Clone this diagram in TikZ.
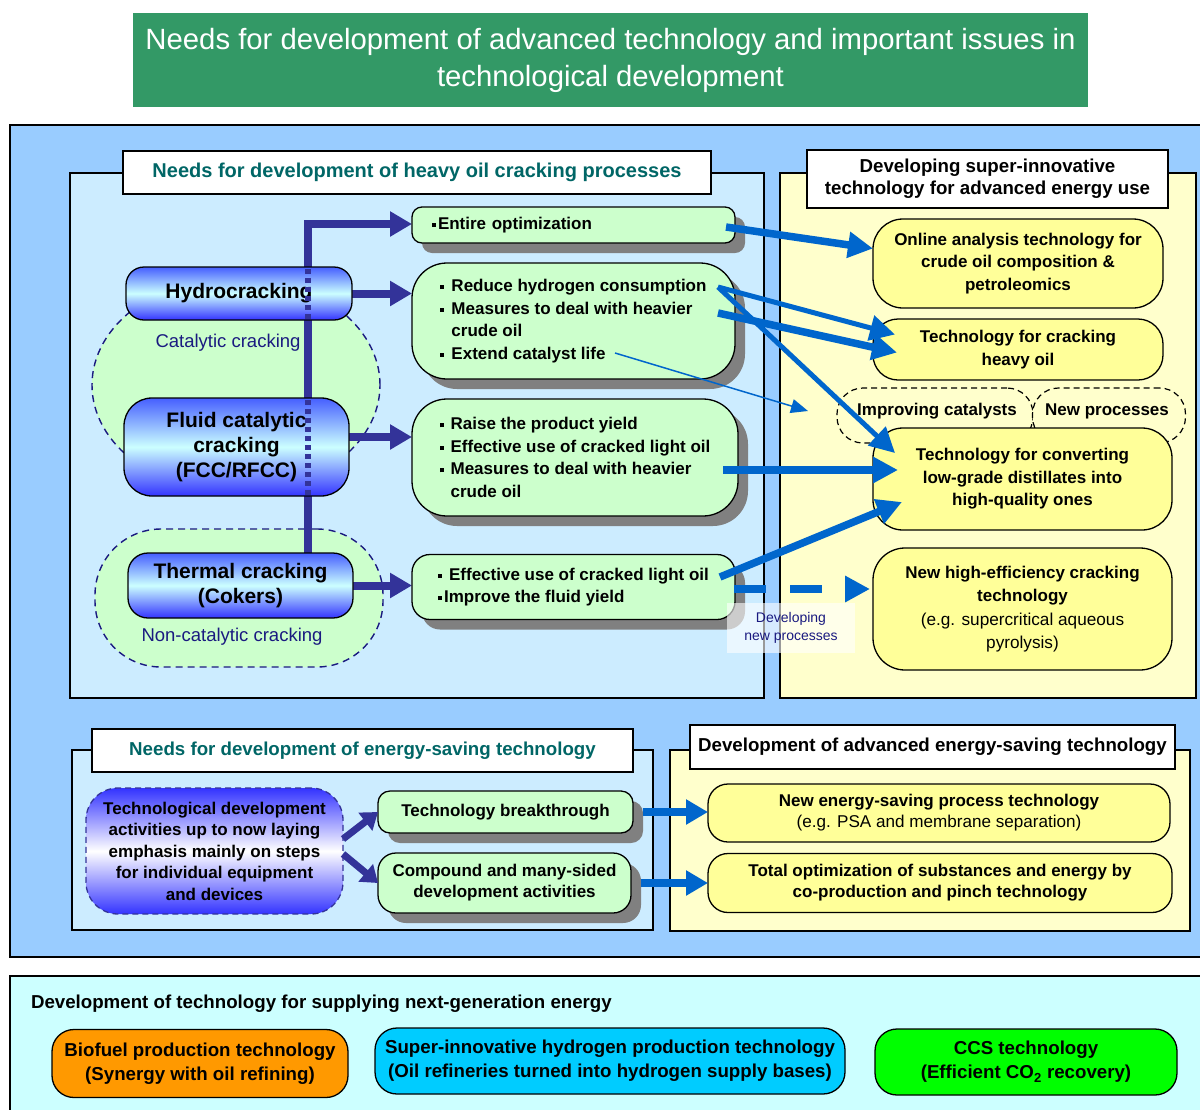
\documentclass[tikz,border=0pt]{standalone}
\usepackage{fontspec}
\setmainfont{Liberation Sans}
\usetikzlibrary{arrows.meta,shadows}
\definecolor{bannerc}{RGB}{51,153,102}
\definecolor{outerc}{RGB}{153,204,255}
\definecolor{secc}{RGB}{204,236,255}
\definecolor{ypanel}{RGB}{255,255,204}
\definecolor{gboxc}{RGB}{204,255,204}
\definecolor{yboxc}{RGB}{255,255,153}
\definecolor{tealc}{RGB}{0,102,102}
\definecolor{navyc}{RGB}{51,51,153}
\definecolor{labelc}{RGB}{26,26,128}
\definecolor{bluec}{RGB}{0,102,204}
\definecolor{shadowc}{RGB}{128,128,128}
\definecolor{botc}{RGB}{204,255,255}
\definecolor{orangec}{RGB}{255,153,0}
\definecolor{cyanc}{RGB}{0,204,255}
\definecolor{limec}{RGB}{0,255,0}
\definecolor{gradblue}{RGB}{51,51,255}
\definecolor{gradtop}{RGB}{70,95,255}
\definecolor{gradmid}{RGB}{204,255,255}
\newcommand{\sqb}{\rule[0.28ex]{4pt}{4pt}\hspace{7pt}}
\newcommand{\sqt}{\rule[0.28ex]{4pt}{4pt}\hspace{2pt}}
\newcommand{\bxf}{\fontsize{17pt}{22.5pt}\selectfont\bfseries}
\newcommand{\hdf}{\fontsize{18.7pt}{22pt}\selectfont\bfseries}
\newcommand{\smf}{\mdseries\fontsize{17.2pt}{22.5pt}\selectfont}
\pgfdeclarelayer{bg}
\pgfdeclarelayer{mid}
\pgfsetlayers{bg,mid,main}
\begin{document}
\begin{tikzpicture}[x=1pt,y=-1pt,
  every node/.style={inner sep=0pt,outer sep=0pt},
  sec/.style={draw=black,line width=1.3pt,fill=secc},
  ypan/.style={draw=black,line width=1.3pt,fill=ypanel},
  titlebox/.style={draw=black,line width=1.3pt,fill=white,font=\hdf,align=center},
  proc/.style={draw=black,line width=1.3pt,top color=gradtop,bottom color=gradblue,middle color=gradmid,
    align=center,font=\fontsize{21pt}{25pt}\selectfont\bfseries},
  gbox/.style={draw=black,line width=1.3pt,fill=gboxc,align=left,font=\bxf,
    drop shadow={shadow xshift=10pt,shadow yshift=-10pt,fill=shadowc,opacity=1}},
  ybox/.style={draw=black,line width=1.3pt,fill=yboxc,align=center,font=\bxf},
  dblob/.style={draw=black,line width=1.2pt,dash pattern=on 6pt off 4pt,fill=ypanel,rounded corners=26pt},
  grp/.style={draw=labelc,line width=1.4pt,dash pattern=on 7pt off 5pt,fill=gboxc},
  grplbl/.style={text=labelc,font=\fontsize{18.5pt}{22pt}\selectfont},
  navyarrow/.style={draw=navyc,line width=8pt,-{Triangle[length=22pt,width=24pt]}},
  barrow/.style={draw=bluec,line width=7.5pt,-{Triangle[length=25pt,width=25pt]}},
  botbox/.style={draw=black,line width=1.3pt,rounded corners=22pt,align=center,
    font=\fontsize{18.7pt}{24pt}\selectfont\bfseries}]
\useasboundingbox (0,0) rectangle (1200,1109);

\begin{pgfonlayer}{bg}
\fill[white] (0,0) rectangle (1200,1109);
\draw[draw=black,line width=1.3pt,fill=outerc] (10,125) rectangle (1215,957);
% heavy oil section
\draw[sec] (70,173) rectangle (764,698);
\draw[ypan] (780,173) rectangle (1196,698);
% groups
\draw[grp] (236,385) ellipse [x radius=144pt, y radius=108pt];
\node[grp,rounded corners=66pt,minimum width=288pt,minimum height=138pt] (noncat) at (239,598) {};
\node[grplbl] (catlbl) at (228,343) {Catalytic cracking};
\node[grplbl] (noncatlbl) at (232,637) {Non-catalytic cracking};
% energy-saving section
\draw[sec] (72,750) rectangle (653,930);
\draw[ypan] (670,750) rectangle (1190,931);
% bottom panel
\draw[draw=black,line width=1.3pt,fill=botc] (10,976) rectangle (1215,1125);
\end{pgfonlayer}

% banner
\node[fill=bannerc,minimum width=955pt,minimum height=94pt,align=center,text=white,
  font=\fontsize{29.3pt}{37pt}\selectfont] (banner) at (610.5,60)
  {Needs for development of advanced technology and important issues in\\technological development};

% section titles
\node[titlebox,text=tealc,minimum width=588pt,minimum height=43pt,font=\fontsize{20pt}{22pt}\selectfont\bfseries] (hotitle) at (417,172.5)
  {Needs for development of heavy oil cracking processes};
\node[titlebox,minimum width=361pt,minimum height=58pt] (rtitle) at (987.5,179)
  {Developing super-innovative\\technology for advanced energy use};
\node[titlebox,text=tealc,minimum width=541pt,minimum height=43pt] (estitle) at (362.5,750.5)
  {Needs for development of energy-saving technology};
\node[titlebox,minimum width=485pt,minimum height=44pt] (eatitle) at (932.5,747)
  {Development of advanced energy-saving technology};

% process nodes
\node[proc,rounded corners=18pt,minimum width=226pt,minimum height=53pt] (hydro) at (239,293.5) {Hydrocracking};
\node[proc,rounded corners=28pt,minimum width=225pt,minimum height=98pt] (fcc) at (236.5,447) {Fluid catalytic\\cracking\\(FCC/RFCC)};
\node[proc,rounded corners=20pt,minimum width=225pt,minimum height=65pt] (thermal) at (240.5,585.5) {Thermal cracking\\(Cokers)};

% green boxes
\node[gbox,rounded corners=10pt,minimum width=323pt,minimum height=36pt,text width=283pt] (box1) at (573.5,225)
  {\sqt Entire optimization};
\node[gbox,rounded corners=35pt,minimum width=323pt,minimum height=116pt] (box2) at (573.5,321)
  {\sqb Reduce hydrogen consumption\\\sqb Measures to deal with heavier\\\hphantom{\sqb}crude oil\\\sqb Extend catalyst life};
\node[gbox,rounded corners=35pt,minimum width=326pt,minimum height=117pt] (box3) at (575,457.5)
  {\sqb Raise the product yield\\\sqb Effective use of cracked light oil\\\sqb Measures to deal with heavier\\\hphantom{\sqb}crude oil};
\node[gbox,rounded corners=18pt,minimum width=323pt,minimum height=65pt] (box4) at (573.5,587)
  {\sqb Effective use of cracked light oil\\\sqt Improve the fluid yield};

% navy connectors (behind the nodes)
\coordinate (vtop) at (308,224);
\coordinate (vbot) at (308,553);
\coordinate (fccout) at ([yshift=10pt]fcc.east);
\begin{pgfonlayer}{mid}
\draw[navyarrow,line join=miter] (vbot) -- (vtop) -- (vtop -| box1.west);
\draw[navyarrow] (hydro.east) -- (hydro.east -| box2.west);
\draw[navyarrow] (fccout) -- (fccout -| box3.west);
\draw[navyarrow] (thermal.east) -- (thermal.east -| box4.west);
\end{pgfonlayer}
\draw[navyc,line width=6pt,dash pattern=on 5pt off 4pt] ([yshift=-2pt]vtop |- hydro.north) -- (vtop |- hydro.south);
\draw[navyc,line width=6pt,dash pattern=on 5pt off 4pt] ([yshift=-2pt]vtop |- fcc.north) -- (vtop |- fcc.south);

% right yellow boxes
\node[ybox,rounded corners=30pt,minimum width=290pt,minimum height=89pt] (online) at (1018,263.5)
  {Online analysis technology for\\crude oil composition \&\\petroleomics};
\node[ybox,rounded corners=25pt,minimum width=290pt,minimum height=61pt] (crack) at (1018,349.5)
  {Technology for cracking\\heavy oil};
\node[dblob,minimum width=196pt,minimum height=55pt] (impcat) at (935,415.5) {};
\node[dblob,minimum width=153pt,minimum height=55pt] (newproc) at (1109,415.5) {};
\node[font=\bxf] (impcattxt) at (937,411) {Improving catalysts};
\node[font=\bxf] (newproctxt) at (1107,411) {New processes};
\node[ybox,rounded corners=30pt,minimum width=299pt,minimum height=102pt] (conv) at (1022.5,479)
  {Technology for converting\\low-grade distillates into\\high-quality ones};
\node[ybox,rounded corners=32pt,minimum width=299pt,minimum height=122pt] (newhe) at (1022.5,609)
  {New high-efficiency cracking\\technology\\[2pt]\smf (e.g. supercritical aqueous\\\smf pyrolysis)};

% blue connectors
\coordinate (s1) at (726,227);
\coordinate (s2) at (718,287);
\coordinate (s3) at (718,313);
\coordinate (s4) at (615,353);
\coordinate (t4) at (808,411);
\coordinate (s5) at (723,470);
\coordinate (s6) at (720,577);
\coordinate (s7) at (734,589);
\draw[barrow] (s1) -- ([yshift=15pt]online.west);
\draw[barrow,line width=5pt] (s2) -- ([xshift=22pt,yshift=15pt]crack.west);
\draw[barrow] (s3) -- ([xshift=24pt,yshift=-3pt]crack.west);
\draw[barrow,line width=5pt] (s2) -- ([xshift=22pt,yshift=26pt]conv.west);
\draw[draw=bluec,line width=1.5pt,-{Triangle[length=17pt,width=14pt]}] (s4) -- (t4);
\draw[barrow] (s5) -- ([xshift=25pt,yshift=9pt]conv.west);
\draw[barrow] (s6) -- ([xshift=29pt,yshift=-23pt]conv.west);
\draw[barrow,dash pattern=on 32pt off 24pt] (s7) -- ([xshift=-3pt,yshift=20pt]newhe.west);
\node[fill=white,fill opacity=0.6,text opacity=1,minimum width=128pt,minimum height=50pt,align=center,
  text=labelc,font=\fontsize{14pt}{18pt}\selectfont] (devlbl) at (791,628) {Developing\\new processes};

% energy-saving nodes
\node[draw=navyc,dash pattern=on 6pt off 4pt,line width=1.3pt,rounded corners=32pt,
  top color=gradblue,bottom color=gradblue,middle color=white,align=center,
  font=\fontsize{17pt}{21.5pt}\selectfont\bfseries,minimum width=257pt,minimum height=126pt] (past) at (214.5,851)
  {Technological development\\activities up to now laying\\emphasis mainly on steps\\for individual equipment\\and devices};
\node[gbox,align=center,rounded corners=12pt,minimum width=255pt,minimum height=42pt] (tb) at (505.5,812)
  {Technology breakthrough};
\node[gbox,align=center,rounded corners=18pt,minimum width=253pt,minimum height=60pt,
  font=\fontsize{17pt}{21pt}\selectfont\bfseries] (comp) at (504.5,883)
  {Compound and many-sided\\development activities};
\draw[draw=navyc,line width=7pt,-{Triangle[length=16pt,width=22pt]}] ([yshift=12pt]past.east) -- (tb.west);
\draw[draw=navyc,line width=7pt,-{Triangle[length=16pt,width=22pt]}] ([yshift=-3pt]past.east) -- (comp.west);
\node[ybox,rounded corners=20pt,minimum width=462pt,minimum height=58pt,font=\fontsize{17pt}{21pt}\selectfont\bfseries] (ens1) at (939,813)
  {New energy-saving process technology\\\mdseries\fontsize{17.1pt}{21pt}\selectfont (e.g. PSA and membrane separation)};
\node[ybox,rounded corners=20pt,minimum width=464pt,minimum height=59pt,font=\fontsize{17pt}{21pt}\selectfont\bfseries] (ens2) at (940,883)
  {Total optimization of substances and energy by\\co-production and pinch technology};
\draw[barrow,-{Triangle[length=22pt,width=24pt]}] ([xshift=10pt]tb.east) -- (ens1.west |- tb.east);
\draw[barrow,-{Triangle[length=22pt,width=24pt]}] ([xshift=10pt]comp.east) -- (ens2.west |- comp.east);

% bottom panel
\node[anchor=west,font=\fontsize{18.7pt}{21pt}\selectfont\bfseries] (bottitle) at (31,1004)
  {Development of technology for supplying next-generation energy};
\node[botbox,fill=orangec,minimum width=296pt,minimum height=68pt] (bio) at (200,1063.5)
  {Biofuel production technology\\(Synergy with oil refining)};
\node[botbox,fill=cyanc,minimum width=470pt,minimum height=66pt] (hyd) at (610,1061)
  {Super-innovative hydrogen production technology\\(Oil refineries turned into hydrogen supply bases)};
\node[botbox,fill=limec,minimum width=302pt,minimum height=66pt] (ccs) at (1026,1062)
  {CCS technology\\(Efficient CO\textsubscript{2} recovery)};
\end{tikzpicture}
\end{document}
